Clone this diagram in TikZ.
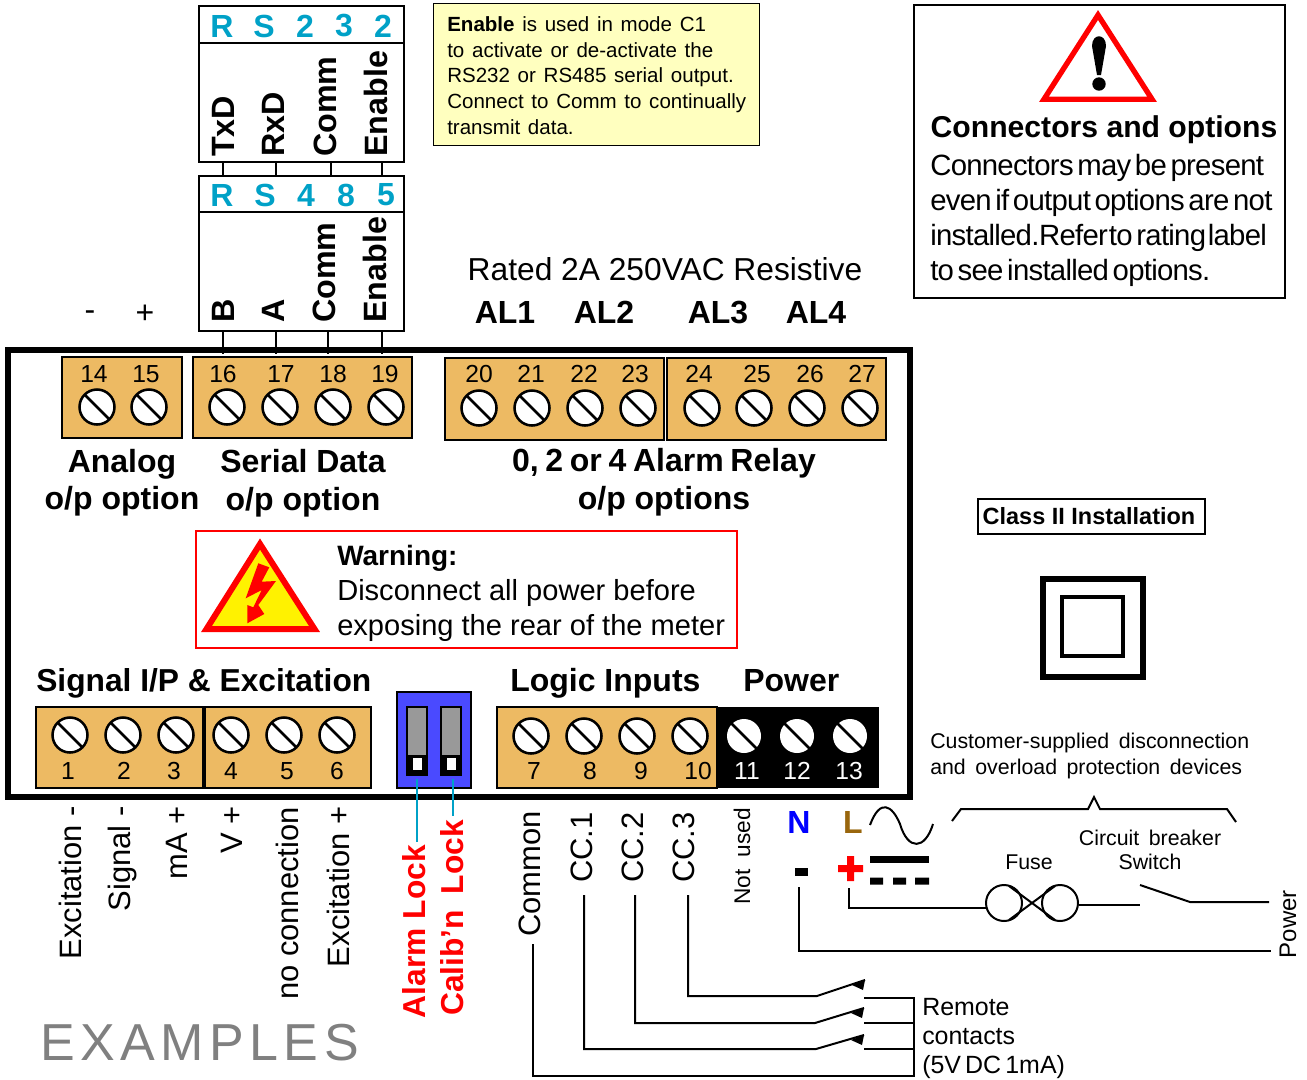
\documentclass[tikz,border=0pt]{standalone}
\usepackage{fontspec}
\setmainfont{Liberation Sans}
\newfontfamily\tightfont[LetterSpace=-2.5]{Liberation Sans}
\newfontfamily\spacedfont[LetterSpace=10.5]{Liberation Sans}
\definecolor{ttcyan}{rgb}{0.,0.63,0.78}
\definecolor{ggblock}{rgb}{0.93,0.73,0.39}
\definecolor{yynote}{rgb}{1.,1.,0.75}
\definecolor{bbdip}{rgb}{0.29,0.29,1.}
\definecolor{nnbrown}{rgb}{0.6,0.4,0.05}
\newcommand{\fsz}[1]{\fontsize{#1}{#1}\selectfont}
\newcommand{\wsp}[1]{\spaceskip=#1\fontdimen2\font\relax\xspaceskip=\spaceskip}
\tikzset{
  termblock/.style={draw=black,fill=ggblock,line width=1.9pt},
  termnum/.style={font=\fsz{18.5pt},inner sep=0pt},
  boldlabel/.style={font=\fsz{24pt}\bfseries,inner sep=0pt,text height=17.2pt,text depth=0pt},
  plainlabel/.style={font=\fsz{23.8pt},inner sep=0pt,text height=17pt,text depth=0pt},
  rslabel/.style={font=\fsz{24pt}\bfseries,text=ttcyan,inner sep=0pt},
  vlabel/.style={rotate=90,font=\fsz{24.2pt}\bfseries,anchor=west,inner sep=0pt},
  pinlabel/.style={rotate=90,font=\fsz{23.2pt},anchor=east,inner sep=0pt},
  redlabel/.style={rotate=90,font=\fsz{23.8pt}\bfseries,text=red,anchor=east,inner sep=0pt},
  notelabel/.style={font=\fsz{15.4pt}\wsp{1.35},anchor=west,inner sep=0pt,text height=11pt,text depth=0pt},
  smalllabel/.style={font=\fsz{16pt}\wsp{1.6},inner sep=0pt,text height=11.5pt,text depth=0pt},
  connlabel/.style={font=\tightfont\fsz{22pt}\wsp{0.5},anchor=west,inner sep=0pt,text height=15.8pt,text depth=0pt},
  warnlabel/.style={font=\fsz{21.8pt},anchor=west,inner sep=0pt,text height=15.6pt,text depth=0pt},
  remotelabel/.style={font=\fsz{18.7pt}\wsp{0.6},anchor=west,inner sep=0pt,text height=13.4pt,text depth=0pt},
  wire/.style={line width=1.5pt,line join=miter},
}
\begin{document}
\begin{tikzpicture}[line cap=butt,line join=miter,x=0.75pt,y=-0.75pt]
\useasboundingbox (0,0) rectangle (1307,1079);
\draw[line width=4.5pt] (8,350) rectangle (910,797);
\draw[line width=1.9pt] (199,6) rectangle (404,162);
\draw[line width=1.9pt] (199,43) -- (404,43);
\draw[line width=1.9pt] (199,176) rectangle (404,331);
\draw[line width=1.9pt] (199,212) -- (404,212);
\foreach \n/\x/\t in {a/222/R,b/264/S,c/305/2,d/344/3,e/383/2}
\node[rslabel] (rsa\n) at (\x,26) {\t};
\foreach \n/\x/\t in {a/222/R,b/265/S,c/306/4,d/346/8,e/386/5}
\node[rslabel] (rsb\n) at (\x,195) {\t};
\foreach \n/\x/\t in {a/223/TxD,b/273/RxD,c/325/Comm,d/376/Enable}
\node[vlabel] (tx\n) at (\x,157) {\t};
\foreach \n/\x/\t in {a/223/B,b/273/A,c/324/Comm,d/375/Enable}
\node[vlabel] (rx\n) at (\x,323) {\t};
\foreach \n/\x/\xx in {a/223/223,b/276/276,c/331/328,d/382/382} {
\coordinate (ua\n) at (\x,162);
\coordinate (ub\n) at (\x,176);
\coordinate (la\n) at (\xx,331);
\coordinate (lb\n) at (\xx,354);
\draw[line width=1.5pt] (ua\n) -- (ub\n);
\draw[line width=1.5pt] (la\n) -- (lb\n);
}
\node[font=\fsz{24pt},inner sep=0pt] (minus) at (90,316) {-};
\node[font=\fsz{24pt},inner sep=0pt] (plus) at (145,314) {+};
%note
\draw[fill=yynote,line width=0.6pt] (433,3) rectangle (759,145);
\node[notelabel] (note1) at (447,24) {\textbf{Enable} is used in mode C1};
\node[notelabel] (note2) at (447,50) {to activate or de-activate the};
\node[notelabel] (note3) at (447,75) {RS232 or RS485 serial output.};
\node[notelabel] (note4) at (447,101) {Connect to Comm to continually};
\node[notelabel] (note5) at (447,127) {transmit data.};
%connectors box
\draw[line width=2.2pt] (914,5) rectangle (1285,298);
\draw[draw=red,line width=4pt] (1098,15) -- (1152,99.2) -- (1044,99.2) -- cycle;
\fill (1092,46) .. controls (1092,33) and (1106,33) .. (1106,46) -- (1101,75) -- (1097,75) -- cycle;
\fill (1099,84) circle (6.7);
\node[boldlabel,font=\fsz{22.6pt}\bfseries,text height=16.2pt] (conntitle) at (1104,127) {Connectors and options};
\node[connlabel] (conn1) at (930,165) {Connectors may be present};
\node[connlabel] (conn2) at (930,200) {even if output options are not};
\node[connlabel] (conn3) at (930,235) {installed.\hspace{-3pt} Refer\hspace{-2pt} to rating\hspace{-1.5pt} label};
\node[connlabel] (conn4) at (930,270) {to see installed options.};
%relay headings
\node[plainlabel] (rated) at (665,269) {Rated 2A 250VAC Resistive};
\node[boldlabel] (al1) at (505,312) {AL1};
\node[boldlabel] (al2) at (604,312) {AL2};
\node[boldlabel] (al3) at (718,312) {AL3};
\node[boldlabel] (al4) at (816,312) {AL4};
%terminal blocks
\draw[termblock] (62,357) rectangle (182,438);
\draw[termblock] (193,357) rectangle (412,438);
\draw[termblock] (445,358) rectangle (664,440);
\draw[termblock] (667,358) rectangle (886,440);
\draw[termblock] (36,707) rectangle (203,788);
\draw[termblock] (205,707) rectangle (371,788);
\draw[termblock] (497,707) rectangle (717,788);
\fill[black] (718,707) rectangle (879,788);
\foreach \x/\y in {97/407,149/407,227/407,280/407,333/407,386/407,479/408,532/408,585/408,638/408,702/408,754/408,807/408,860/408,70/735,123/735,176/735,231/735,284/735,337/735,531/736,584/736,637/736,690/736} {
\draw[fill=white,line width=1.9pt] (\x,\y) circle (17.5);
\draw[line width=1.9pt] (\x-12.5,\y-12.5) -- (\x+12.5,\y+12.5);
}
\foreach \x in {744,797,850} {
\fill[white] (\x,736) circle (17);
\draw[line width=1.9pt] (\x-12.5,736-12.5) -- (\x+12.5,736+12.5);
}
\foreach \n/\x in {14/94,15/146,16/223,17/281,18/333,19/385,20/479,21/531,22/584,23/635,24/699,25/757,26/810,27/862}
\node[termnum] (t\n) at (\x,374) {\n};
\foreach \n/\x in {1/68,2/124,3/174,4/231,5/287,6/337,7/534,8/590,9/641,10/698}
\node[termnum] (t\n) at (\x,771) {\n};
\foreach \n/\x in {11/747,12/797,13/849}
\node[termnum,text=white] (t\n) at (\x,771) {\n};
\node[boldlabel] (analog) at (122,461) {Analog};
\node[boldlabel] (analogb) at (122,498) {o/p option};
\node[boldlabel] (serial) at (303,461) {Serial Data};
\node[boldlabel] (serialb) at (303,499) {o/p option};
\node[boldlabel,font=\fsz{24pt}\bfseries\wsp{0.75}] (relay) at (664,460) {0, 2 or 4 Alarm Relay};
\node[boldlabel] (relayb) at (664,498) {o/p options};
%warning
\draw[draw=red,line width=1.9pt] (196,531) rectangle (737,648);
\draw[draw=red,fill=yellow,line width=4.5pt] (260,544) -- (314.5,629) -- (206.5,629) -- cycle;
\fill[red] (258.3,563.3) -- (269.3,567.3) -- (261.7,581.7) -- (276,581) -- (258.3,605) -- (264.3,614) -- (247.3,623.3) -- (247.3,605) -- (253.3,607.3) -- (261.7,590) -- (245.7,598.3) -- cycle;
\node[warnlabel,font=\fsz{21pt}\bfseries] (warn1) at (337,555) {Warning:};
\node[warnlabel] (warn2) at (337,590) {Disconnect all power before};
\node[warnlabel] (warn3) at (337,625) {exposing the rear of the meter};
\node[boldlabel,anchor=west,font=\fsz{23.8pt}\bfseries] (signal) at (36,680) {Signal I/P \& Excitation};
\node[boldlabel,anchor=west] (logic) at (510,680) {Logic Inputs};
\node[boldlabel,anchor=west] (power) at (743,680) {Power};
%dip switch
\draw[fill=bbdip,line width=1.9pt] (397,692) rectangle (471,788);
\foreach \x in {407,441} {
\draw[fill=black!40,line width=1.9pt] (\x,707) rectangle (\x+20,775);
\fill[black] (\x,755) rectangle (\x+20,775);
\fill[white] (\x+5.5,758) rectangle (\x+15,770);
}
\coordinate (dipa) at (417,779);
\coordinate (dipb) at (453,779);
\coordinate (alarmtop) at (417,842);
\coordinate (calibtop) at (453,816);
\draw[draw=ttcyan,line width=1.5pt] (dipa) -- (alarmtop);
\draw[draw=ttcyan,line width=1.5pt] (dipb) -- (calibtop);
%pin names
\node[pinlabel] (p1) at (70,806) {Excitation -};
\node[pinlabel] (p2) at (123,806) {Signal -};
\node[pinlabel] (p3) at (177,806) {mA +};
\node[pinlabel] (p4) at (232,806) {V +};
\node[pinlabel] (p5) at (287,807) {no connection};
\node[pinlabel] (p6) at (338,806) {Excitation +};
\node[redlabel] (alarm) at (414,845) {Alarm Lock};
\node[redlabel] (calib) at (452,820) {Calib'n\hspace{5pt} Lock};
\node[pinlabel] (p7) at (530,811) {Common};
\node[pinlabel] (p8) at (582,812) {CC.1};
\node[pinlabel] (p9) at (633,812) {CC.2};
\node[pinlabel] (p10) at (684,812) {CC.3};
\node[pinlabel,font=\fsz{17pt}\wsp{1.9}] (p11) at (742,808) {Not used};
\node[boldlabel,text=blue] (nlabel) at (799,822) {N};
\node[boldlabel,text=nnbrown] (llabel) at (853,822) {L};
\fill[black] (795,868) rectangle (808,876);
\fill[red] (838,865) rectangle (863,872) (847,856) rectangle (854,881);
\draw[line width=1.5pt] (870,825) .. controls (880,798) and (892,805) .. (900,824) .. controls (908,851) and (925,850) .. (933,824);
\fill[black] (870,855.5) rectangle (929,862.5);
\fill[black] (870,877.5) rectangle (883,884.5) (893,877.5) rectangle (906,884.5) (915,877.5) rectangle (929,884.5);
%mains wiring
\coordinate (plusend) at (849,888);
\coordinate (fusea) at (986,908);
\coordinate (fuseb) at (1079,905);
\coordinate (swa) at (1140,905);
\coordinate (swb) at (1140,885);
\coordinate (swc) at (1190,902);
\coordinate (swd) at (1269,902);
\coordinate (minusend) at (799,887);
\coordinate (neutral) at (1271,951);
\draw[wire] (plusend) |- (fusea);
\draw[wire] (fuseb) -- (swa);
\draw[wire] (swb) -- (swc) -- (swd);
\draw[wire] (minusend) |- (neutral);
\draw[line width=1.5pt] (1004,903) circle (18) (1060,903) circle (18);
\draw[line width=1.5pt] (1009,886) -- (1055,920) (1009,920) -- (1055,886);
\draw[line width=1.5pt] (952,821) -- (961,809) -- (1088,809) -- (1094,797) -- (1100,809) -- (1227,809) -- (1236,822);
\node[smalllabel] (breaker) at (1150,838) {Circuit breaker};
\node[smalllabel] (switch) at (1150,862) {Switch};
\node[smalllabel] (fuse) at (1029,862) {Fuse};
\node[pinlabel,font=\fsz{18pt}] (mains) at (1288,890) {Power};
\node[smalllabel,anchor=west] (cust1) at (930,741) {Customer-supplied disconnection};
\node[smalllabel,anchor=west] (cust2) at (930,767) {and overload protection devices};
%remote contacts
\coordinate (comtop) at (533,944);
\coordinate (combar) at (914,1076);
\coordinate (barone) at (914,998);
\coordinate (cona) at (864,998);
\coordinate (conb) at (864,1023);
\coordinate (conc) at (864,1049);
\coordinate (barb) at (914,1023);
\coordinate (barc) at (914,1049);
\draw[wire] (comtop) |- (combar) -- (barone) -- (cona);
\draw[wire] (conb) -- (barb);
\draw[wire] (conc) -- (barc);
\coordinate (ccatop) at (584,895);
\coordinate (ccbtop) at (635,895);
\coordinate (ccctop) at (688,895);
\coordinate (kneea) at (816,1049);
\coordinate (kneeb) at (815,1023);
\coordinate (kneec) at (817,996);
\coordinate (bladea) at (864,1035);
\coordinate (bladeb) at (864,1008);
\coordinate (bladec) at (865,980);
\draw[wire] (ccatop) |- (kneea) -- (bladea);
\draw[wire] (ccbtop) |- (kneeb) -- (bladeb);
\draw[wire] (ccctop) |- (kneec) -- (bladec);
\foreach \n in {a,b,c}
\fill[black] (blade\n) -- ++(-2,10) -- ++(-11,-5) -- cycle;
\node[remotelabel] (remote1) at (922,1007) {Remote};
\node[remotelabel] (remote2) at (922,1036) {contacts};
\node[remotelabel] (remote3) at (922,1065) {(5V DC 1mA)};
\node[font=\spacedfont\fsz{39pt},text=black!50,inner sep=0pt,anchor=west] (examples) at (40,1043) {EXAMPLES};
%class II
\draw[line width=1.5pt] (978,499) rectangle (1205,534);
\node[font=\fsz{17.6pt}\bfseries,inner sep=0pt] (classtwo) at (1089,516) {Class II Installation};
\draw[line width=3.8pt] (1043,579) rectangle (1143,677);
\draw[line width=3pt] (1062,597) rectangle (1123,656);
\end{tikzpicture}
\end{document}
